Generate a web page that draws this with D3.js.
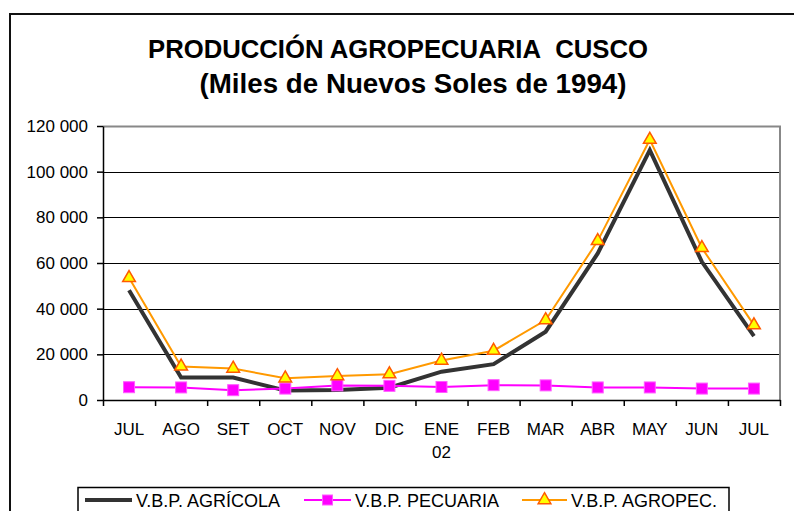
<!DOCTYPE html>
<html>
<head>
<meta charset="utf-8">
<script src="https://cdn.jsdelivr.net/npm/d3@7"></script>
<style>
  body { margin: 0; background: #fff; }
  text { font-family: "Liberation Sans", Arial, sans-serif; fill: #000; }
</style>
</head>
<body>
<div class="chart"></div>
<script>
var months = ['JUL', 'AGO', 'SET', 'OCT', 'NOV', 'DIC', 'ENE', 'FEB', 'MAR', 'ABR', 'MAY', 'JUN', 'JUL'];
var subLabels = ['', '', '', '', '', '', '02', '', '', '', '', '', ''];
var yTicks = [0, 20000, 40000, 60000, 80000, 100000, 120000];

var agricola = [48100, 9800, 9800, 4200, 4400, 5400, 12400, 15700, 29900, 64200, 109400, 60500, 28000];
var pecuaria = [5600, 5500, 4300, 5000, 6400, 6200, 5700, 6500, 6400, 5500, 5500, 5000, 5000];
var agropec = [53500, 14700, 13800, 9500, 10500, 11300, 17300, 21600, 35000, 69700, 114000, 66600, 32800];

var seriesNames = ['V.B.P. AGRÍCOLA', 'V.B.P. PECUARIA', 'V.B.P. AGROPEC.'];

var width = 794, height = 511;
var plot = { left: 103, right: 780, top: 126, bottom: 400 };

var svg = d3.select('.chart')
  .append('svg')
  .attr('width', width)
  .attr('height', height);

// outer chart frame (runs off the right and bottom edges)
svg.append('rect')
  .attr('x', 10).attr('y', 14)
  .attr('width', 820).attr('height', 540)
  .attr('fill', 'none')
  .attr('stroke', '#111')
  .attr('stroke-width', 2);

// titles
svg.append('text')
  .attr('x', 398).attr('y', 58)
  .attr('text-anchor', 'middle')
  .attr('font-size', 26).attr('font-weight', 'bold')
  .attr('textLength', 500).attr('lengthAdjust', 'spacingAndGlyphs')
  .text('PRODUCCIÓN AGROPECUARIA\u00a0 CUSCO');

svg.append('text')
  .attr('x', 413).attr('y', 93)
  .attr('text-anchor', 'middle')
  .attr('font-size', 27).attr('font-weight', 'bold')
  .attr('textLength', 427).attr('lengthAdjust', 'spacingAndGlyphs')
  .text('(Miles de Nuevos Soles de 1994)');

var xScale = d3.scaleBand()
  .domain(d3.range(months.length))
  .range([plot.left, plot.right]);

var xEdge = d3.scaleLinear()
  .domain([0, months.length])
  .range([plot.left, plot.right]);

var yScale = d3.scaleLinear()
  .domain([0, 120000])
  .range([plot.bottom, plot.top]);

var fmt = d3.formatLocale({ decimal: '.', thousands: ' ', grouping: [3], currency: ['', ''] }).format(',');

// gridlines
svg.append('g')
  .selectAll('line')
  .data(yTicks.filter(d => d > 0 && d < 120000))
  .enter()
  .append('line')
  .attr('x1', plot.left).attr('x2', plot.right)
  .attr('y1', d => Math.round(yScale(d)) + 0.5)
  .attr('y2', d => Math.round(yScale(d)) + 0.5)
  .attr('stroke', '#000')
  .attr('stroke-width', 1.2);

// plot border top/right in gray
svg.append('path')
  .attr('d', `M${plot.left},${Math.round(yScale(120000)) + 0.5}H${plot.right}V${plot.bottom}`)
  .attr('fill', 'none')
  .attr('stroke', '#888')
  .attr('stroke-width', 2);

// y axis
var yAxis = svg.append('g')
  .attr('transform', `translate(${plot.left},0)`)
  .call(d3.axisLeft(yScale).tickValues(yTicks).tickFormat(fmt).tickSize(6).tickSizeOuter(0).tickPadding(9));
yAxis.selectAll('text').attr('font-size', 17).attr('font-family', '"Liberation Sans", Arial, sans-serif');
yAxis.selectAll('line, path').attr('stroke', '#000').attr('stroke-width', 1.5);

// x axis, ticks between categories
var xAxis = svg.append('g')
  .attr('transform', `translate(0,${plot.bottom})`)
  .call(d3.axisBottom(xEdge).tickValues(d3.range(months.length + 1)).tickFormat('').tickSize(6).tickSizeOuter(0));
xAxis.selectAll('line, path').attr('stroke', '#000').attr('stroke-width', 1.5);

var xLabels = svg.append('g');
xLabels.selectAll('.m')
  .data(months)
  .enter()
  .append('text')
  .attr('class', 'm')
  .attr('x', (d, i) => xScale(i) + xScale.bandwidth() / 2)
  .attr('y', 435)
  .attr('text-anchor', 'middle')
  .attr('font-size', 17)
  .text(d => d);
xLabels.selectAll('.s')
  .data(subLabels)
  .enter()
  .append('text')
  .attr('class', 's')
  .attr('x', (d, i) => xScale(i) + xScale.bandwidth() / 2)
  .attr('y', 458)
  .attr('text-anchor', 'middle')
  .attr('font-size', 17)
  .text(d => d);

var line = d3.line()
  .x((d, i) => xScale(i) + xScale.bandwidth() / 2)
  .y(d => yScale(d));

var cx = i => xScale(i) + xScale.bandwidth() / 2;

// agricola
svg.append('path')
  .attr('d', line(agricola))
  .attr('fill', 'none')
  .attr('stroke', '#333')
  .attr('stroke-width', 4);

// pecuaria
svg.append('path')
  .attr('d', line(pecuaria))
  .attr('fill', 'none')
  .attr('stroke', '#ff00ff')
  .attr('stroke-width', 2);
svg.append('g')
  .selectAll('rect')
  .data(pecuaria)
  .enter()
  .append('rect')
  .attr('x', (d, i) => cx(i) - 5.5)
  .attr('y', d => yScale(d) - 5.5)
  .attr('width', 11).attr('height', 11)
  .attr('fill', '#ff00ff')
  .attr('stroke', '#ff5cff')
  .attr('stroke-width', 1);

// agropecuario
var tri = d3.symbol().type(d3.symbolTriangle).size(70);
svg.append('path')
  .attr('d', line(agropec))
  .attr('fill', 'none')
  .attr('stroke', '#ff9900')
  .attr('stroke-width', 2);
svg.append('g')
  .selectAll('path')
  .data(agropec)
  .enter()
  .append('path')
  .attr('d', tri)
  .attr('transform', (d, i) => `translate(${cx(i)},${yScale(d)})`)
  .attr('fill', '#ffff00')
  .attr('stroke', '#ff5a00')
  .attr('stroke-width', 1.5);

// legend
var legend = svg.append('g');
legend.append('rect')
  .attr('x', 78).attr('y', 487.5)
  .attr('width', 651).attr('height', 40)
  .attr('fill', '#fff')
  .attr('stroke', '#000')
  .attr('stroke-width', 1.5);

var legendItems = [
  { x: 85, tx: 136, color: '#333', w: 4, mark: null },
  { x: 304, tx: 355, color: '#ff00ff', w: 2, mark: 'square' },
  { x: 522, tx: 571, color: '#ff9900', w: 2, mark: 'tri' }
];

legendItems.forEach((it, i) => {
  legend.append('line')
    .attr('x1', it.x).attr('x2', it.tx - 4)
    .attr('y1', 500).attr('y2', 500)
    .attr('stroke', it.color)
    .attr('stroke-width', it.w);
  var mx = (it.x + it.tx - 4) / 2;
  if (it.mark === 'square') {
    legend.append('rect')
      .attr('x', mx - 5).attr('y', 495)
      .attr('width', 10).attr('height', 10)
      .attr('fill', '#ff00ff').attr('stroke', '#ff5cff');
  } else if (it.mark === 'tri') {
    legend.append('path')
      .attr('d', tri)
      .attr('transform', `translate(${mx},500)`)
      .attr('fill', '#ffff00').attr('stroke', '#ff5a00').attr('stroke-width', 1.5);
  }
  legend.append('text')
    .attr('x', it.tx).attr('y', 507)
    .attr('font-size', 18)
    .text(seriesNames[i]);
});
</script>
</body>
</html>
